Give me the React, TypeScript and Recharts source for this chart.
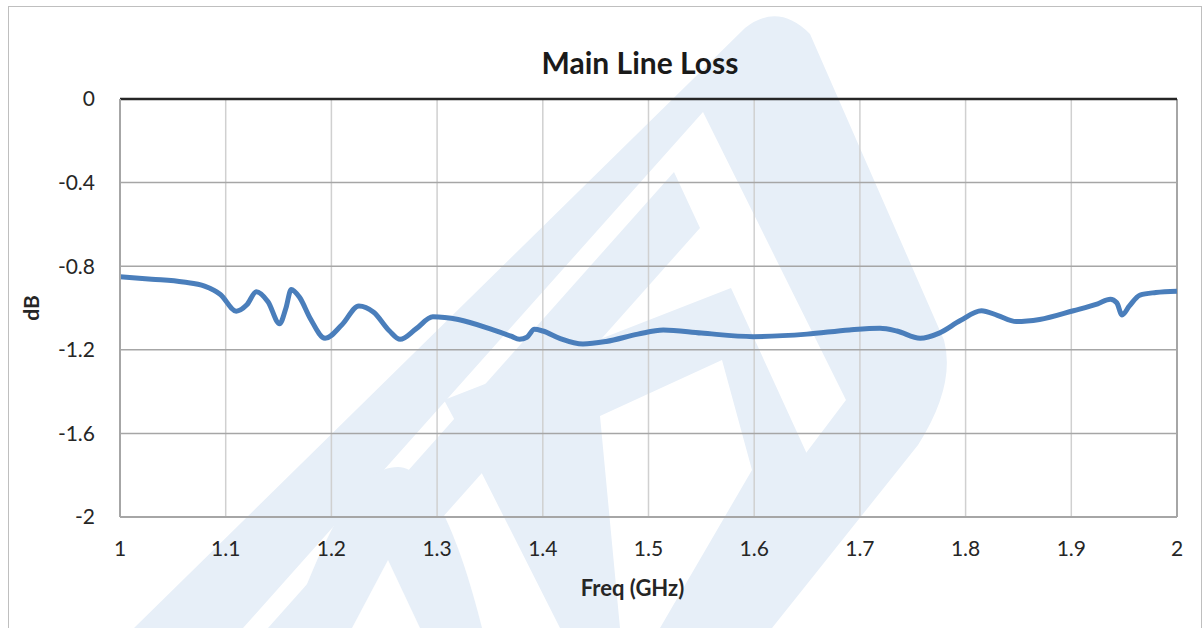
import React from "react";
import {
  LineChart,
  Line,
  XAxis,
  YAxis,
  CartesianGrid,
  ReferenceLine,
  Label,
} from "recharts";

// values
const freq = [
  1.0, 1.03, 1.06, 1.08, 1.095, 1.11, 1.12, 1.129, 1.14, 1.151, 1.157, 1.162,
  1.17, 1.18, 1.194, 1.21, 1.226, 1.24, 1.255, 1.265, 1.28, 1.296, 1.32, 1.353,
  1.37, 1.378, 1.385, 1.392, 1.4, 1.416, 1.438, 1.46, 1.49, 1.514, 1.55, 1.599,
  1.65, 1.69, 1.719, 1.735, 1.757, 1.775, 1.795, 1.815, 1.83, 1.848, 1.87,
  1.902, 1.925, 1.937, 1.943, 1.948, 1.955, 1.965, 1.98, 2.0,
];
const loss = [
  -0.85, -0.862, -0.876, -0.895, -0.935, -1.015, -0.985, -0.922, -0.97, -1.075,
  -1.0, -0.911, -0.95, -1.05, -1.145, -1.08, -0.99, -1.02, -1.11, -1.15, -1.1,
  -1.042, -1.055, -1.105, -1.135, -1.15, -1.14, -1.102, -1.11, -1.145, -1.172,
  -1.16, -1.125, -1.105, -1.12, -1.137, -1.125, -1.105, -1.097, -1.11, -1.145,
  -1.12, -1.06, -1.013, -1.035, -1.065, -1.055, -1.013, -0.98, -0.958, -0.975,
  -1.033, -0.99, -0.938, -0.926, -0.92,
];
const xTicks = [1, 1.1, 1.2, 1.3, 1.4, 1.5, 1.6, 1.7, 1.8, 1.9, 2];
const yTicks = [-2, -1.6, -1.2, -0.8, -0.4, 0];

const data = freq.map((f, i) => ({ f, db: loss[i] }));

const font = "Lato, 'Open Sans', sans-serif";
const wm = "#e7eff8";

export default function App() {
  return (
    <div style={{ position: "relative", width: 1203, height: 628, overflow: "hidden", background: "#fff", fontFamily: font }}>
      <style>{`body{margin:0}`}</style>
      {/* faint logo watermark behind the plot */}
      <svg width={1203} height={628} style={{ position: "absolute", left: 0, top: 0 }}>
        <path
          fill={wm}
          d="M134 628 L745 28 Q778 2 810 34 L944 340 Q956 385 918 445 L772 628 L674 628 L846 400 L703 112 L243 628 Z"
        />
        <polygon fill={wm} points="268,628 674,172 700,228 344,628" />
        <path fill={wm} d="M290 628 C330 520 360 467 398 467 C430 467 460 540 482 628 Z" />
        <polygon fill="#fff" points="352,628 388,560 420,628" />
        <polygon
          fill={wm}
          points="444,400 731,288 812,465 720,628 660,628 752,470 722,360 600,416 620,628 560,628 460,430"
        />
      </svg>
      <div
        style={{
          position: "absolute",
          left: 8,
          top: 6,
          width: 1192,
          height: 700,
          border: "1px solid #bfbfbf",
        }}
      />
      <div
        style={{
          position: "absolute",
          left: 0,
          top: 44,
          width: 1280,
          textAlign: "center",
          fontSize: 30,
          fontWeight: 700,
          color: "#1a1a1a",
        }}
      >
        Main Line Loss
      </div>
      <div style={{ position: "absolute", left: 0, top: 0 }}>
        <LineChart
          width={1203}
          height={628}
          data={data}
          margin={{ top: 99, right: 26, left: 20, bottom: 81 }}
        >
          <CartesianGrid horizontal={false} stroke="#d0d0d0" strokeWidth={1.5} />
          <CartesianGrid vertical={false} stroke="#a6a6a6" strokeWidth={1.5} />
          <XAxis
            dataKey="f"
            type="number"
            domain={[1, 2]}
            ticks={xTicks}
            interval={0}
            axisLine={{ stroke: "#a6a6a6", strokeWidth: 2 }}
            tickLine={false}
            tickSize={0}
            tickMargin={24}
            tick={{ fill: "#262626", fontSize: 21, fontFamily: font }}
          >
            <Label
              value="Freq (GHz)"
              position="bottom"
              offset={33}
              dx={-16}
              style={{ fill: "#262626", fontSize: 22, fontWeight: 700, fontFamily: font }}
            />
          </XAxis>
          <YAxis
            type="number"
            domain={[-2, 0]}
            ticks={yTicks}
            interval={0}
            width={100}
            axisLine={{ stroke: "#a6a6a6", strokeWidth: 2 }}
            tickLine={false}
            tickSize={0}
            tickMargin={25}
            tick={{ fill: "#262626", fontSize: 21, fontFamily: font }}
          >
            <Label
              value="dB"
              angle={-90}
              position="insideLeft"
              offset={12}
              style={{ fill: "#262626", fontSize: 21, fontWeight: 700, fontFamily: font, textAnchor: "middle" }}
            />
          </YAxis>
          <ReferenceLine x={2} stroke="#a6a6a6" strokeWidth={2} />
          <ReferenceLine y={0} stroke="#262626" strokeWidth={2.5} />
          <Line
            type="monotone"
            dataKey="db"
            stroke="#4a7ebb"
            strokeWidth={5}
            dot={false}
            isAnimationActive={false}
          />
        </LineChart>
      </div>
    </div>
  );
}
